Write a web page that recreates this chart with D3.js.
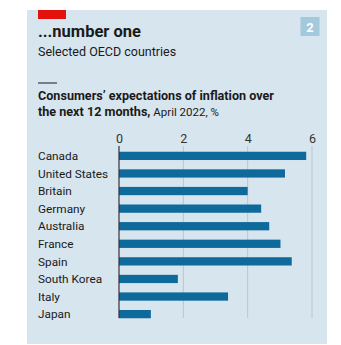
<!DOCTYPE html>
<html><head><meta charset="utf-8">
<script src="https://cdn.jsdelivr.net/npm/d3@7"></script>
<style>
html,body{margin:0;padding:0;background:#fff;}
svg{display:block;}
text{font-family:Roboto,sans-serif;}
</style></head>
<body>
<svg id="chart" width="341" height="345"></svg>
<script>
const categories = ["Canada","United States","Britain","Germany","Australia","France","Spain","South Korea","Italy","Japan"];
const values = [5.82,5.16,4.0,4.42,4.67,5.02,5.37,1.83,3.39,0.99];
const tickValues = [0,2,4,6];

const svg = d3.select("#chart");
svg.append("rect").attr("x",27).attr("y",10).attr("width",300).attr("height",334).attr("fill","#d7e5ee");
svg.append("rect").attr("x",38).attr("y",10).attr("width",28).attr("height",9).attr("fill","#e3120b");
svg.append("rect").attr("x",300.5).attr("y",17).attr("width",19).attr("height",19).attr("fill","#a4c8dc");
svg.append("text").attr("x",310).attr("y",31.5).attr("text-anchor","middle").attr("fill","#fff")
  .attr("font-weight","bold").attr("font-size",13).text("2");

svg.append("text").attr("x",38).attr("y",37).attr("font-weight","bold").attr("font-size",16.5).attr("fill","#1a1a1a").text("...number one");
svg.append("text").attr("x",38).attr("y",56).attr("font-size",12.5).attr("fill","#1a1a1a").text("Selected OECD countries");
svg.append("rect").attr("x",38).attr("y",82.5).attr("width",19).attr("height",1).attr("fill","#1a1a1a");
svg.append("text").attr("x",38).attr("y",100).attr("font-weight","bold").attr("font-size",12.6).attr("fill","#1a1a1a").text("Consumers’ expectations of inflation over");
const t2 = svg.append("text").attr("x",38).attr("y",115.5).attr("font-size",12.6).attr("fill","#1a1a1a");
t2.append("tspan").attr("font-weight","bold").text("the next 12 months,");
t2.append("tspan").attr("font-size",11.5).text(" April 2022, %");

const x = d3.scaleLinear().domain([0,6]).range([119,312]);
const y = d3.scaleBand().domain(categories).range([147,323]).paddingInner(0.53).paddingOuter(0.27);

const g = svg.append("g");
g.selectAll("line.grid").data(tickValues.slice(1)).join("line").attr("class","grid")
  .attr("x1",d=>x(d)).attr("x2",d=>x(d)).attr("y1",146).attr("y2",318)
  .attr("stroke","#b7c6d0").attr("stroke-width",1);

const axis = d3.axisTop(x).tickValues(tickValues).tickFormat(d3.format("d")).tickSize(0).tickPadding(0);
const ax = svg.append("g").attr("transform","translate(0,143)").call(axis);
ax.select(".domain").remove();
ax.selectAll("text").attr("font-family","Roboto, sans-serif").attr("font-size",12.5).attr("fill","#333");

g.selectAll("rect.bar").data(values).join("rect").attr("class","bar")
  .attr("x",x(0)).attr("y",(d,i)=>y(categories[i])).attr("height",y.bandwidth())
  .attr("width",d=>x(d)-x(0)).attr("fill","#0f6a9c");

g.append("line").attr("x1",x(0)).attr("x2",x(0)).attr("y1",146).attr("y2",318).attr("stroke","#333").attr("stroke-width",1.2);

svg.append("g").selectAll("text").data(categories).join("text")
  .attr("x",38).attr("y",d=>y(d)+y.bandwidth()/2).attr("dy","0.36em")
  .attr("font-size",11.8).attr("fill","#1a1a1a").text(d=>d);
</script>
</body></html>
